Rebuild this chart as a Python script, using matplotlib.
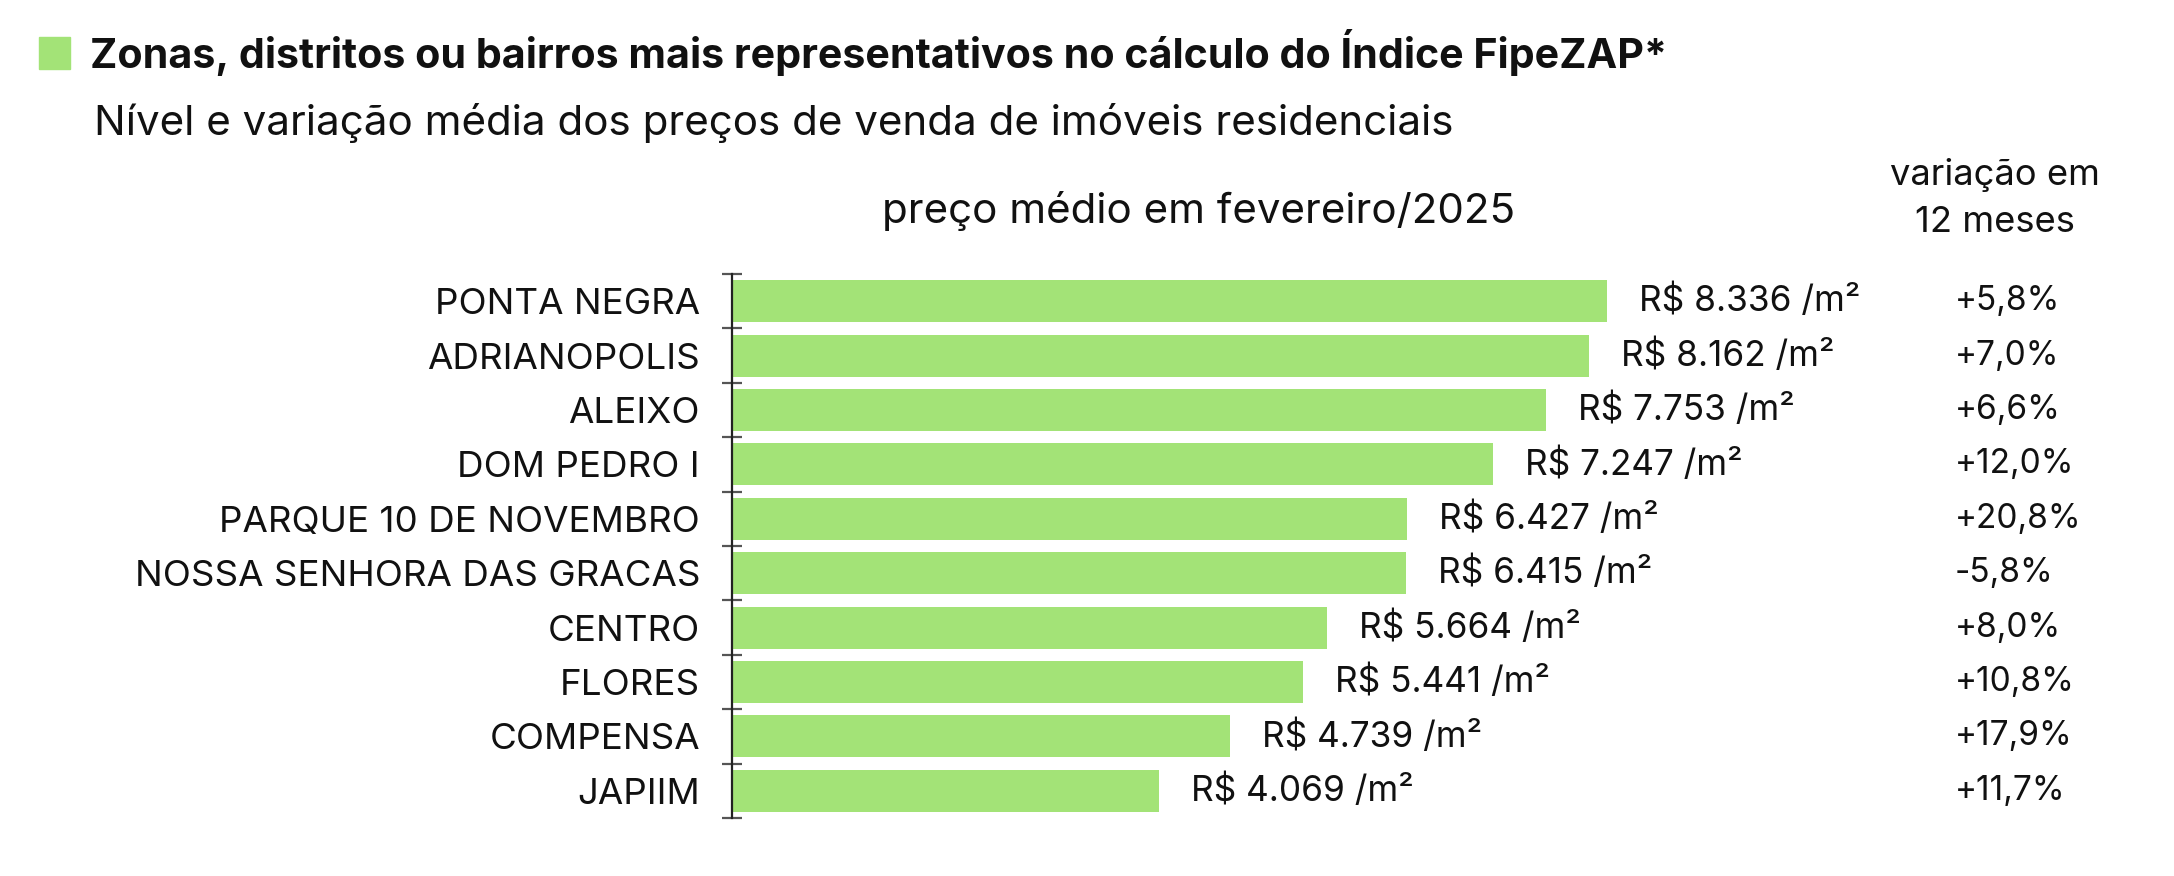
import matplotlib
matplotlib.use("Agg")
import matplotlib.pyplot as plt
from matplotlib.patches import Rectangle

categories = ["PONTA NEGRA", "ADRIANOPOLIS", "ALEIXO", "DOM PEDRO I",
              "PARQUE 10 DE NOVEMBRO", "NOSSA SENHORA DAS GRACAS", "CENTRO",
              "FLORES", "COMPENSA", "JAPIIM"]
prices = [8336, 8162, 7753, 7247, 6427, 6415, 5664, 5441, 4739, 4069]
variation = [5.8, 7.0, 6.6, 12.0, 20.8, -5.8, 8.0, 10.8, 17.9, 11.7]

title = "Zonas, distritos ou bairros mais representativos no cálculo do Índice FipeZAP*"
subtitle = "Nível e variação média dos preços de venda de imóveis residenciais"
col1_title = "preço médio em fevereiro/2025"
col2_title_l1 = "variação em"
col2_title_l2 = "12 meses"

W, H = 2174, 876
DPI = 100
GREEN = "#a3e377"
FONT = "Inter"
plt.rcParams["font.family"] = [FONT, "DejaVu Sans"]

fig = plt.figure(figsize=(W / DPI, H / DPI), dpi=DPI)
renderer = fig.canvas.get_renderer()


def fx(px):
    return px / W


def fy(py):
    return 1 - py / H


def fit_text(x, y, s, target_w, ha="left", va="center", weight="normal", size=20, **kw):
    t = fig.text(fx(x), fy(y), s, ha=ha, va=va, fontsize=size, weight=weight,
                 color="#111111", **kw)
    w = t.get_window_extent(renderer).width
    t.set_fontsize(size * target_w / w)
    return t


# title square and texts
fig.patches.append(Rectangle((fx(39), fy(69)), fx(31), (69 - 37) / H,
                             transform=fig.transFigure, color=GREEN))
fit_text(90, 53, title, 1574, weight="bold", size=28)
fit_text(94, 123, subtitle, 1360, size=22)
fit_text(1199, 211, col1_title, 632, ha="center", size=22)
t_l1 = fit_text(1995, 175, col2_title_l1, 210, ha="center", size=22)
fig.text(fx(1995), fy(222), col2_title_l2, ha="center", va="center",
         fontsize=t_l1.get_fontsize(), color="#111111")

# axes
ax_left, ax_top, ax_bottom = 732, 274, 818
px_per_unit = 0.105
xmax = 10000
ax = fig.add_axes([fx(ax_left), fy(ax_bottom), fx(xmax * px_per_unit),
                   (ax_bottom - ax_top) / H])
n = len(categories)
ypos = list(range(n))
ax.barh(ypos, prices, height=0.77, color=GREEN, zorder=2)
ax.set_xlim(0, xmax)
ax.set_ylim(n - 0.5, -0.5)

for s in ["top", "right", "bottom"]:
    ax.spines[s].set_visible(False)
ax.spines["left"].set_color("#222222")
ax.spines["left"].set_linewidth(1.6)
ax.set_xticks([])
ax.set_yticks(ypos)
ax.set_yticklabels(categories)
ax.tick_params(axis="y", which="major", length=0, pad=23)
ax.set_yticks([i - 0.5 for i in range(n + 1)], minor=True)
ax.tick_params(axis="y", which="minor", length=15, width=1.6, direction="inout",
               color="#555555")
ax.patch.set_alpha(0)

# fit category label size
lbl_size = 20
for lab in ax.get_yticklabels():
    lab.set_fontsize(lbl_size)
    lab.set_color("#111111")
fig.canvas.draw()
widths = [lab.get_window_extent(renderer).width for lab in ax.get_yticklabels()]
scale = 565 / widths[5]
for lab in ax.get_yticklabels():
    lab.set_fontsize(lbl_size * scale)

# value labels
val_texts = []
pct_texts = []
for i, (v, p) in enumerate(zip(prices, variation)):
    s = "R$ " + f"{v:,}".replace(",", ".") + " /m²"
    t = ax.annotate(s, xy=(v, i), xytext=(23, 0), textcoords="offset points",
                    ha="left", va="center", fontsize=20, color="#111111")
    val_texts.append(t)
    ps = ("+" if p > 0 else "") + f"{p:.1f}".replace(".", ",") + "%"
    t2 = ax.annotate(ps, xy=(0, i), xycoords=("figure fraction", "data"),
                     xytext=(fx(1955), 0), textcoords=("figure fraction", "offset points"),
                     ha="left", va="center", fontsize=20, color="#111111")
    pct_texts.append(t2)

fig.canvas.draw()
w0 = val_texts[0].get_window_extent(renderer).width
vs = 20 * 221 / w0
for t in val_texts:
    t.set_fontsize(vs)
for t in pct_texts:
    t.set_fontsize(vs * 0.95)

fig.savefig("out.png", dpi=DPI, facecolor="white")
